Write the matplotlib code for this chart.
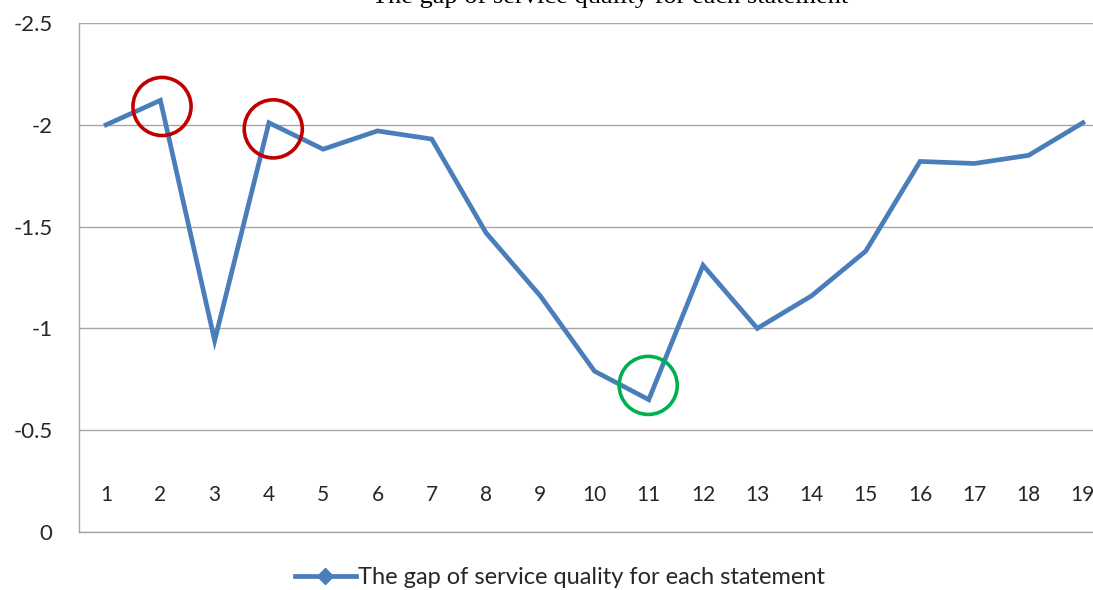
import matplotlib.pyplot as plt
from matplotlib.lines import Line2D
from matplotlib.ticker import FuncFormatter

# Data
statements = list(range(1, 20))
gap = [-2.00, -2.12, -0.94, -2.01, -1.88, -1.97, -1.93, -1.47, -1.16, -0.79,
       -0.65, -1.31, -1.00, -1.16, -1.38, -1.82, -1.81, -1.85, -2.01]

# highlight circles (statement, centre value, colour)
circle_x = [2.03, 4.08, 10.99]
circle_y = [-2.09, -1.98, -0.72]
circle_colors = ['#C00000', '#C00000', '#00B050']

title = 'The gap of service quality for each statement'
line_color = '#4A7EBB'
grid_color = '#A6A6A6'
plt.rcParams['font.family'] = ['Lato', 'DejaVu Sans']

fig = plt.figure(figsize=(10.93, 5.9), dpi=100)
ax = fig.add_axes([79 / 1093, 58 / 590, 1031 / 1093, 509 / 590])

ax.plot(statements, gap, color=line_color, linewidth=3.4, solid_joinstyle='miter')
ax.scatter(circle_x, circle_y, s=1750, facecolors='none',
           edgecolors=circle_colors, linewidths=2.6, zorder=3)

ax.set_xlim(0.5, 19.5)
ax.set_ylim(0, -2.5)
ax.set_yticks([0, -0.5, -1, -1.5, -2, -2.5])
ax.yaxis.set_major_formatter(FuncFormatter(lambda v, p: '%g' % v))
ax.set_xticks(statements)
ax.set_xticklabels([str(s) for s in statements])

ax.grid(axis='y', color=grid_color, linewidth=1.0)
ax.set_axisbelow(True)
for side in ['top', 'right']:
    ax.spines[side].set_visible(False)
for side in ['left', 'bottom']:
    ax.spines[side].set_color(grid_color)
    ax.spines[side].set_linewidth(1.0)

ax.tick_params(axis='y', length=0, pad=19, labelsize=16, labelcolor='#262626')
ax.tick_params(axis='x', length=0, pad=-26.5, labelsize=15, labelcolor='#262626')
for lab in ax.get_xticklabels():
    lab.set_verticalalignment('center')

fig.text(610 / 1093, 1 - 3 / 590, title, family='Liberation Serif', fontsize=19,
         ha='center', va='baseline', color='black')

handle = Line2D([], [], color=line_color, linewidth=3.4, marker='D', markersize=8,
                markerfacecolor=line_color, markeredgecolor=line_color)
fig.legend([handle], [title], loc='center', bbox_to_anchor=(560 / 1093, 1 - 578 / 590),
           frameon=False, fontsize=17, handlelength=2.6, handletextpad=0.1,
           labelcolor='#262626')

fig.savefig('out.png', dpi=100)
